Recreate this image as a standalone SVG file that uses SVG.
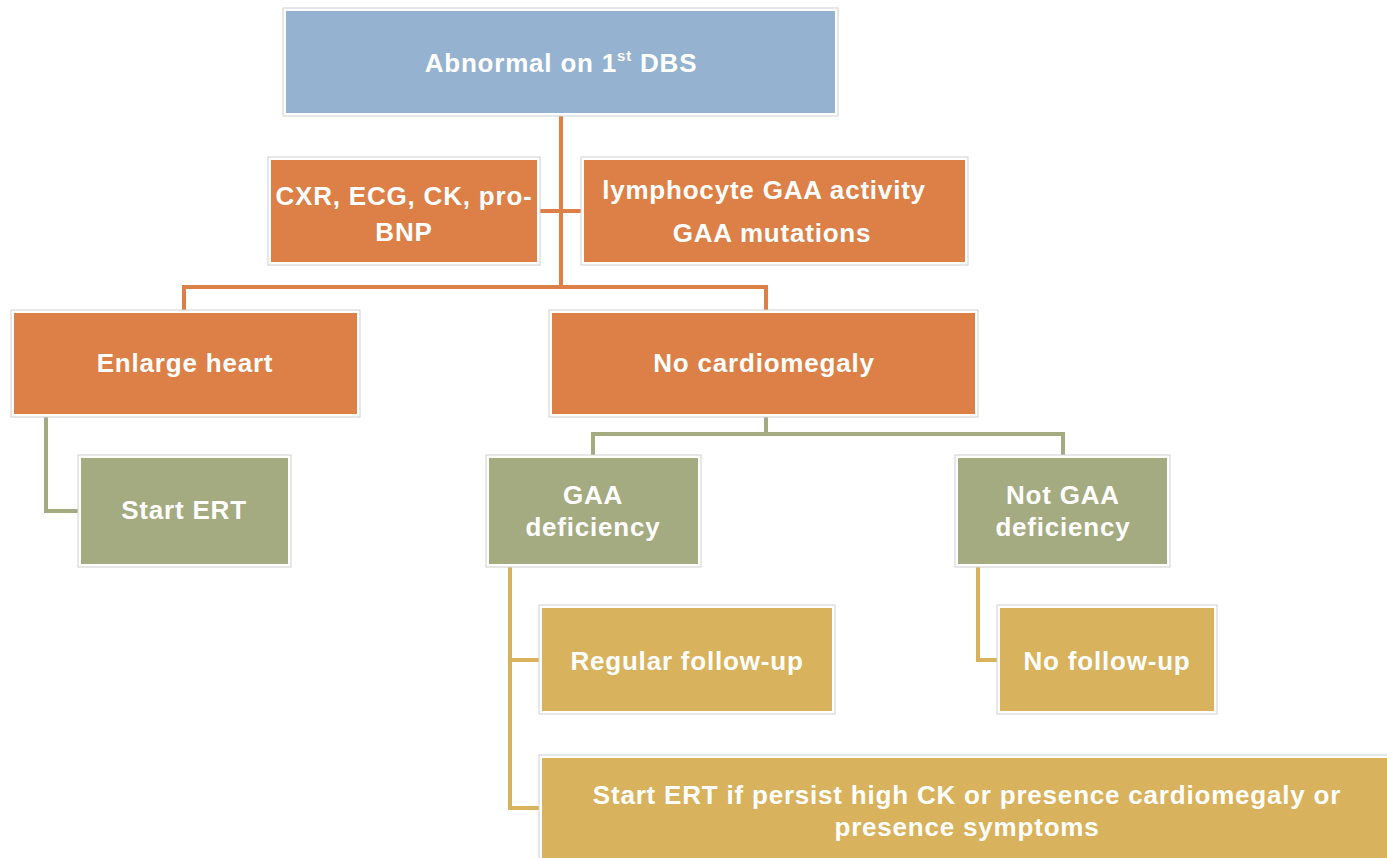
<svg xmlns="http://www.w3.org/2000/svg" width="1387" height="858" viewBox="0 0 1387 858">
  <style>
    .frame { fill: #ffffff; stroke: #cfcfcf; stroke-width: 1; }
    .blue { fill: #95B3D0; }
    .orange { fill: #DD8047; }
    .green { fill: #A5AB81; }
    .gold { fill: #D8B25C; }
    .lbl { font-family: "Liberation Sans", Arial, sans-serif; font-weight: bold; font-size: 26px; letter-spacing: 0.8px; fill: #ffffff; text-anchor: middle; }
    .sup { font-size: 15px; }
    .c-orange { stroke: #DD8047; stroke-width: 4; fill: none; }
    .c-green { stroke: #A5AB81; stroke-width: 4; fill: none; }
    .c-gold { stroke: #D8B25C; stroke-width: 4; fill: none; }
  </style>

  <rect width="1387" height="858" fill="#ffffff"/>

  <!-- connectors -->
  <g id="connectors">
    <path class="c-orange" d="M561 116 V287 M540 211 H581 M184 310 V287 H766 V310"/>
    <path class="c-green" d="M46 417 V511 H80"/>
    <path class="c-green" d="M766 417 V434 M593 455 V434 H1063 V455"/>
    <path class="c-gold" d="M510 567 V808 H541 M510 660 H541"/>
    <path class="c-gold" d="M978 567 V660 H999"/>
  </g>

  <g id="n-dbs">
    <rect class="frame" x="283" y="8" width="555" height="108"/>
    <rect class="blue" x="286" y="11" width="549" height="102"/>
    <text class="lbl" x="561" y="72">Abnormal on 1<tspan class="sup" dy="-11">st</tspan><tspan dy="11"> DBS</tspan></text>
  </g>

  <g id="n-tests">
    <rect class="frame" x="268" y="157" width="272" height="108"/>
    <rect class="orange" x="271" y="160" width="266" height="102"/>
    <text class="lbl" x="404" y="205">CXR, ECG, CK, pro-</text>
    <text class="lbl" x="404" y="241">BNP</text>
  </g>

  <g id="n-gaa-tests">
    <rect class="frame" x="581" y="157" width="387" height="108"/>
    <rect class="orange" x="584" y="160" width="381" height="102"/>
    <text class="lbl" x="764" y="199">lymphocyte GAA activity</text>
    <text class="lbl" x="772" y="242">GAA mutations</text>
  </g>

  <g id="n-enlarge">
    <rect class="frame" x="11" y="310" width="349" height="107"/>
    <rect class="orange" x="14" y="313" width="343" height="101"/>
    <text class="lbl" x="185" y="372">Enlarge heart</text>
  </g>

  <g id="n-nocardio">
    <rect class="frame" x="549" y="310" width="429" height="107"/>
    <rect class="orange" x="552" y="313" width="423" height="101"/>
    <text class="lbl" x="764" y="372">No cardiomegaly</text>
  </g>

  <g id="n-start-ert">
    <rect class="frame" x="78" y="455" width="213" height="112"/>
    <rect class="green" x="81" y="458" width="207" height="106"/>
    <text class="lbl" x="184" y="519">Start ERT</text>
  </g>

  <g id="n-gaa-def">
    <rect class="frame" x="486" y="455" width="215" height="112"/>
    <rect class="green" x="489" y="458" width="209" height="106"/>
    <text class="lbl" x="593" y="504">GAA</text>
    <text class="lbl" x="593" y="536">deficiency</text>
  </g>

  <g id="n-not-gaa">
    <rect class="frame" x="955" y="455" width="215" height="112"/>
    <rect class="green" x="958" y="458" width="209" height="106"/>
    <text class="lbl" x="1063" y="504">Not GAA</text>
    <text class="lbl" x="1063" y="536">deficiency</text>
  </g>

  <g id="n-regular">
    <rect class="frame" x="539" y="605" width="296" height="109"/>
    <rect class="gold" x="542" y="608" width="290" height="103"/>
    <text class="lbl" x="687" y="670">Regular follow-up</text>
  </g>

  <g id="n-nofollow">
    <rect class="frame" x="997" y="605" width="220" height="109"/>
    <rect class="gold" x="1000" y="608" width="214" height="103"/>
    <text class="lbl" x="1107" y="670">No follow-up</text>
  </g>

  <g id="n-start-ert-if">
    <rect class="frame" x="539" y="755" width="870" height="120"/>
    <rect class="gold" x="542" y="758" width="864" height="114"/>
    <text class="lbl" x="967" y="804">Start ERT if persist high CK or presence cardiomegaly or</text>
    <text class="lbl" x="967" y="836">presence symptoms</text>
  </g>
</svg>
